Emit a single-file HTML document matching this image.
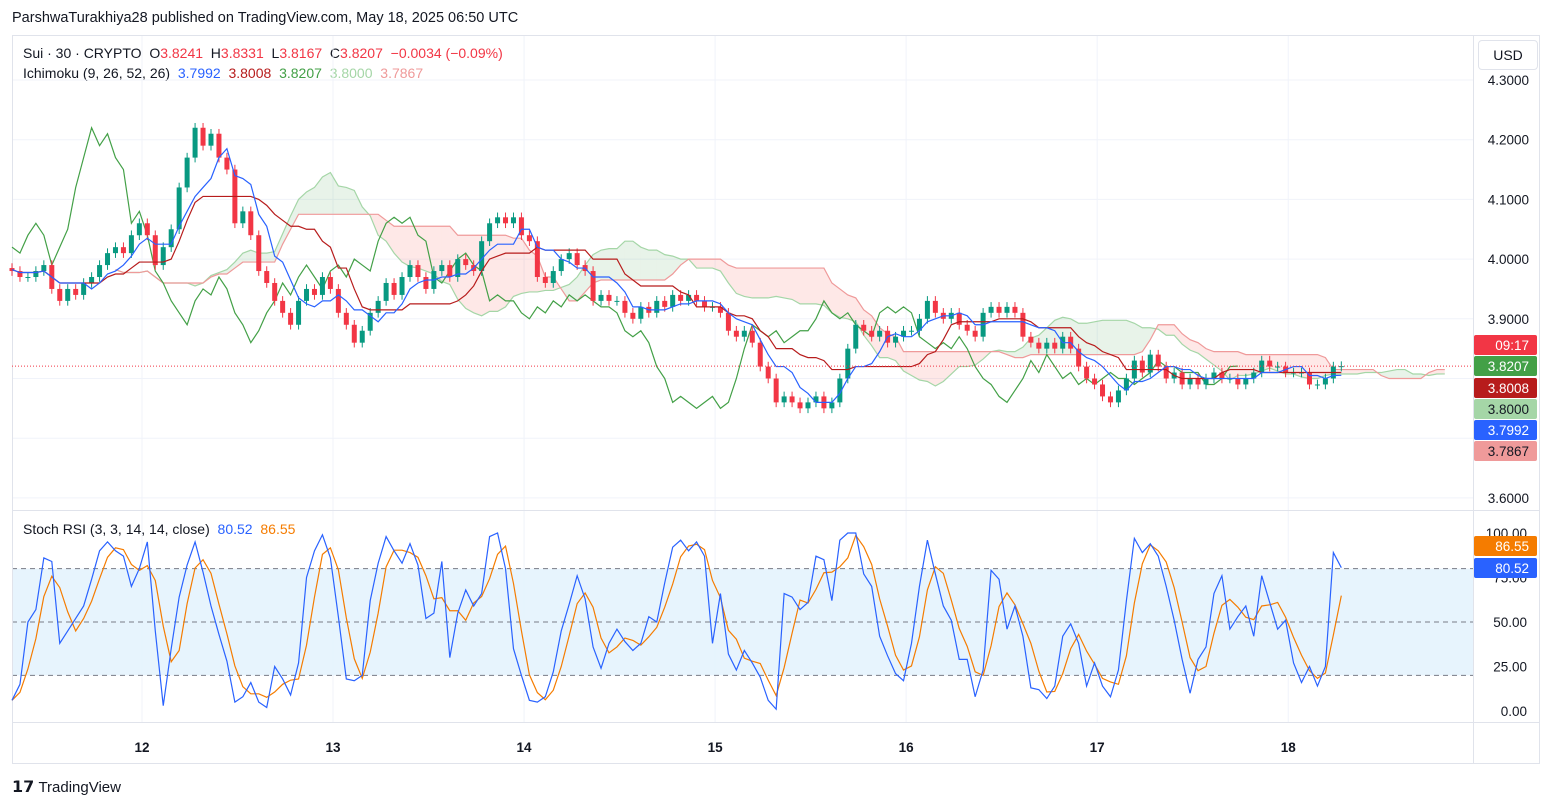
<!DOCTYPE html>
<html><head><meta charset="utf-8"><style>
body{margin:0;background:#fff;font-family:"Liberation Sans",sans-serif;}
#wrap{position:relative;width:1553px;height:809px;overflow:hidden;background:#fff}
.t{position:absolute;white-space:nowrap;font-size:14px;color:#131722}
</style></head><body>
<div id="wrap">
<div class="t" style="left:12px;top:10px;font-size:14.5px">ParshwaTurakhiya28 published on TradingView.com, May 18, 2025 06:50 UTC</div>
<div class="t" style="left:23px;top:45px">Sui · 30 · CRYPTO&nbsp; <span style="color:#131722">O</span><span style="color:#f23645">3.8241</span>&nbsp; H<span style="color:#f23645">3.8331</span>&nbsp; L<span style="color:#f23645">3.8167</span>&nbsp; C<span style="color:#f23645">3.8207</span>&nbsp; <span style="color:#f23645">−0.0034 (−0.09%)</span></div>
<div class="t" style="left:23px;top:65px">Ichimoku (9, 26, 52, 26)&nbsp; <span style="color:#2962ff">3.7992</span>&nbsp; <span style="color:#b71c1c">3.8008</span>&nbsp; <span style="color:#43a047">3.8207</span>&nbsp; <span style="color:#a5d6a7">3.8000</span>&nbsp; <span style="color:#ef9a9a">3.7867</span></div>
<div class="t" style="left:23px;top:521px">Stoch RSI (3, 3, 14, 14, close)&nbsp; <span style="color:#2962ff">80.52</span>&nbsp; <span style="color:#f57c00">86.55</span></div>
<div class="t" style="left:1478px;top:40px;width:58px;height:28px;line-height:28px;text-align:center;border:1px solid #e0e3eb;border-radius:4px;background:#fff">USD</div>
<div class="t" style="left:12px;top:777px;font-size:15px;font-weight:bold;color:#131722"><span style="font-size:16px">𝟭𝟳</span> <span style="font-weight:normal">TradingView</span></div>
<svg id="svg" width="1553" height="809" style="position:absolute;left:0;top:0"></svg>
</div>
<script>
const closes=[3.98,3.97,3.97,3.98,3.99,3.95,3.93,3.95,3.94,3.96,3.97,3.99,4.01,4.02,4.01,4.04,4.06,4.04,3.99,4.02,4.05,4.12,4.17,4.22,4.19,4.21,4.17,4.15,4.06,4.08,4.04,3.98,3.96,3.93,3.91,3.89,3.93,3.95,3.94,3.97,3.95,3.91,3.89,3.86,3.88,3.91,3.93,3.96,3.94,3.97,3.99,3.97,3.95,3.98,3.99,3.97,4.00,3.99,3.98,4.03,4.06,4.07,4.06,4.07,4.04,4.03,3.97,3.96,3.98,4.00,4.01,3.99,3.98,3.93,3.94,3.93,3.93,3.91,3.90,3.92,3.91,3.93,3.92,3.94,3.93,3.94,3.93,3.92,3.92,3.91,3.88,3.87,3.88,3.86,3.82,3.80,3.76,3.77,3.76,3.75,3.76,3.77,3.75,3.76,3.80,3.85,3.89,3.88,3.87,3.88,3.86,3.87,3.88,3.88,3.90,3.93,3.91,3.90,3.91,3.89,3.88,3.87,3.91,3.92,3.91,3.92,3.91,3.87,3.86,3.85,3.86,3.85,3.87,3.85,3.82,3.80,3.79,3.77,3.76,3.78,3.80,3.83,3.81,3.84,3.82,3.80,3.81,3.79,3.80,3.79,3.80,3.81,3.80,3.80,3.79,3.80,3.81,3.83,3.82,3.82,3.81,3.81,3.81,3.79,3.79,3.80,3.82,3.8207];
const stochK=[6,15,50,57,86,84,38,45,52,59,74,90,95,90,87,70,80,95,45,3,35,64,82,95,78,59,43,28,5,8,16,5,2,25,18,9,27,75,90,99,86,53,18,17,20,62,83,98,90,83,94,82,52,55,84,30,55,68,59,66,98,100,80,35,20,6,5,8,22,45,60,76,63,36,24,38,46,39,34,38,53,50,72,92,96,90,95,87,38,66,32,23,34,27,19,6,1,66,64,57,61,87,85,62,96,100,100,77,70,42,31,21,17,38,70,96,77,59,51,29,29,8,23,79,74,46,59,42,13,12,7,14,42,49,38,14,27,14,8,23,62,97,89,94,87,70,51,29,10,29,36,66,76,46,53,59,42,76,61,46,51,27,16,25,14,25,89,80.52];
const priceTicks=[4.3,4.2,4.1,4.0,3.9,3.6];
const stochTicks=[100,75,50,25,0];
const dayLabels=["12","13","14","15","16","17","18"];
const dayStartIndex=[16.33,40.33,64.33,88.33,112.33,136.33,160.33];
const priceLabels=[["09:17",3.8420,"#f23645","#fff"],["3.8207",3.8207,"#43a047","#fff"],["3.8008",3.8008,"#b71c1c","#fff"],["3.8000",3.8000,"#a5d6a7","#131722"],["3.7992",3.7992,"#2962ff","#fff"],["3.7867",3.7867,"#ef9a9a","#131722"]];
const stochLabels=[["86.55",86.55,"#f57c00"],["80.52",80.52,"#2962ff"]];
const ns="http://www.w3.org/2000/svg",svg=document.getElementById('svg');
const X0=12,DX=7.96,PL=12,PR=1473;
const xi=i=>X0+i*DX;
const yp=p=>80+(4.3-p)*597;
const ys=v=>711-v*1.78;
function el(tag,at,parent){const e=document.createElementNS(ns,tag);for(const k in at)e.setAttribute(k,at[k]);(parent||svg).appendChild(e);return e;}
let g=el('g',{});
priceTicks.forEach(p=>{el('line',{x1:PL,x2:PR,y1:yp(p),y2:yp(p),stroke:'#f0f3fa'},g);});
el('line',{x1:PL,x2:PR,y1:yp(3.8),y2:yp(3.8),stroke:'#f0f3fa'},g);
el('line',{x1:PL,x2:PR,y1:yp(3.7),y2:yp(3.7),stroke:'#f0f3fa'},g);
dayStartIndex.forEach(d=>{el('line',{x1:xi(d),x2:xi(d),y1:35,y2:722,stroke:'#f0f3fa'},g);});
const band=el('rect',{x:PL,y:ys(80),width:PR-PL,height:ys(20)-ys(80),fill:'#e3f2fd',opacity:0.85});

[80,50,20].forEach(v=>{const l=el('line',{x1:PL,x2:PR,y1:ys(v),y2:ys(v),stroke:'#787b86','stroke-dasharray':'5,4'});});
el('rect',{x:12.5,y:35.5,width:1527,height:728,fill:'none',stroke:'#e0e3eb'});
el('line',{x1:12,x2:1540,y1:510.5,y2:510.5,stroke:'#e0e3eb'});
el('line',{x1:PR+0.5,x2:PR+0.5,y1:35,y2:764,stroke:'#e0e3eb'});
el('line',{x1:12,x2:1540,y1:722.5,y2:722.5,stroke:'#e0e3eb'});
const n=closes.length;
const opens=closes.map((c,i)=>i?closes[i-1]:c+0.005);
const highs=closes.map((c,i)=>Math.max(c,opens[i])+0.008);
const lows=closes.map((c,i)=>Math.min(c,opens[i])-0.008);
const T=5,K=13,S=26,D=13;
function mid(i,p){let h=-1e9,l=1e9;for(let j=Math.max(0,i-p+1);j<=i;j++){h=Math.max(h,highs[j]);l=Math.min(l,lows[j]);}return (h+l)/2;}
const ten=[],kij=[],spA=[],spB=[];
for(let i=0;i<n;i++){ten.push(mid(i,T));kij.push(mid(i,K));spA.push((mid(i,T)+mid(i,K))/2);spB.push(mid(i,S));}
const cg=el('g',{});
for(let i=0;i<n-1;i++){const a=xi(i+D),b=xi(i+1+D);if(a>PR)break;
 const up=(spA[i]+spA[i+1])>=(spB[i]+spB[i+1]);
 el('polygon',{points:`${a},${yp(spA[i])} ${b},${yp(spA[i+1])} ${b},${yp(spB[i+1])} ${a},${yp(spB[i])}`,fill:up?'rgba(67,160,71,0.12)':'rgba(244,67,54,0.12)'},cg);}
function line(arr,shift,color,name,w){const pts=[];arr.forEach((v,i)=>{const x=xi(i+shift);if(x>=PL-1&&x<=PR)pts.push(x+','+yp(v));});const l=el('polyline',{points:pts.join(' '),fill:'none',stroke:color,'stroke-width':w||1.2});}
line(spA,D,'#a5d6a7','senkou-span-a');
line(spB,D,'#ef9a9a','senkou-span-b');
line(closes,-D,'#43a047','chikou-span');
const kg=el('g',{});
for(let i=0;i<n;i++){const up=closes[i]>=opens[i],c=up?'#089981':'#f23645',x=xi(i);
 el('line',{x1:x,x2:x,y1:yp(highs[i]),y2:yp(lows[i]),stroke:c},kg);
 const t=yp(Math.max(opens[i],closes[i])),b=yp(Math.min(opens[i],closes[i]));
 el('rect',{x:x-2.5,y:t,width:5,height:Math.max(1,b-t),fill:c},kg);}
line(kij,0,'#b71c1c','kijun-sen');
line(ten,0,'#2962ff','tenkan-sen');
const cl=el('line',{x1:PL,x2:PR,y1:yp(3.8207),y2:yp(3.8207),stroke:'#f23645','stroke-dasharray':'1,2'});
const stochD=stochK.map((v,i)=>{const a=stochK.slice(Math.max(0,i-2),i+1);return a.reduce((s,x)=>s+x,0)/a.length;});
function sline(arr,color,name){const l=el('polyline',{points:arr.map((v,i)=>xi(i)+','+ys(v)).join(' '),fill:'none',stroke:color,'stroke-width':1.2});}
sline(stochD,'#f57c00','stoch-d-line');
sline(stochK,'#2962ff','stoch-k-line');
function txt(x,y,s,at){const t=el('text',Object.assign({x:x,y:y,'font-size':13.5,'font-family':'Liberation Sans, sans-serif',fill:'#131722'},at||{}));t.textContent=s;return t;}
priceTicks.forEach(p=>{const t=txt(1529,yp(p)+5,p.toFixed(4),{'text-anchor':'end'});});
stochTicks.forEach(v=>{const t=txt(1527,ys(v)+5,v.toFixed(2),{'text-anchor':'end'});});
dayLabels.forEach((d,i)=>{const t=txt(xi(dayStartIndex[i]),752,d,{'text-anchor':'middle','font-weight':'bold'});});
function badge(s,y,bg,fg,name){const r=el('rect',{x:1474,y:y-10,width:63,height:20,rx:2,fill:bg});txt(1529,y+5,s,{'text-anchor':'end',fill:fg});}
const py=[345,366,388,409,430,451];
priceLabels.forEach((l,i)=>badge(l[0],py[i],l[2],l[3],'price-badge'));
badge(stochLabels[0][0],546,stochLabels[0][2],'#fff','stoch-badge');
badge(stochLabels[1][0],568,stochLabels[1][2],'#fff','stoch-badge');
</script>
</body></html>
